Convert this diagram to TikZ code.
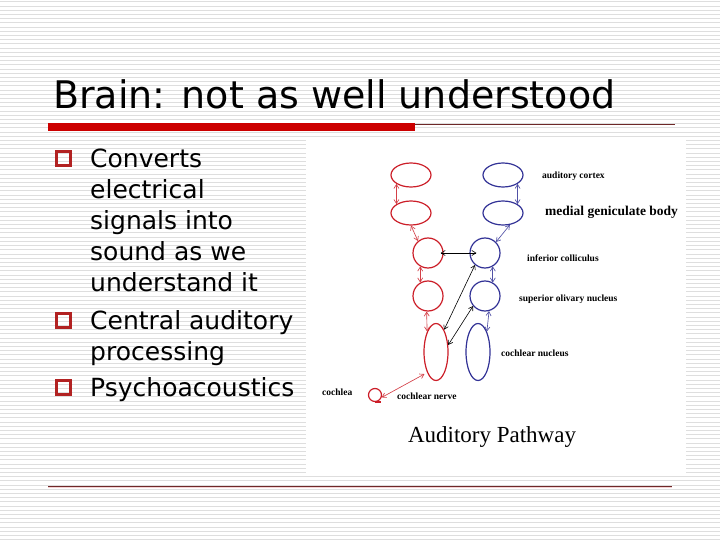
\documentclass[tikz,border=0pt]{standalone}
\usepackage{fontspec}
\setmainfont{Liberation Serif}
\newfontfamily\slidefont{DejaVu Sans}
\usetikzlibrary{arrows.meta,shapes.geometric,calc}

\definecolor{barred}{RGB}{204,0,0}
\definecolor{rulered}{RGB}{110,40,40}
\definecolor{bulletred}{RGB}{178,34,34}
\definecolor{pathred}{RGB}{204,30,40}
\definecolor{pathblue}{RGB}{50,50,150}
\definecolor{stripe}{RGB}{222,222,222}

\begin{document}
\begin{tikzpicture}[x=1pt, y=-1pt,
  every node/.style={inner sep=0pt},
  redring/.style={draw=pathred, line width=1.2pt},
  bluering/.style={draw=pathblue, line width=1.2pt},
  flat/.style={ellipse, minimum width=40pt, minimum height=24pt},
  nucleus/.style={circle, minimum size=30pt},
  tall/.style={ellipse, minimum width=24pt, minimum height=57pt},
  redlink/.style={draw=pathred!85, line width=0.65pt,
    arrows={Straight Barb[length=4pt,width=5pt]-Straight Barb[length=4pt,width=5pt]}},
  bluelink/.style={redlink, draw=pathblue!85},
  crosslink/.style={redlink, draw=black, line width=0.6pt},
  tag/.style={font=\fontsize{9.5}{10}\selectfont\bfseries, anchor=west},
  bullet/.style={draw=bulletred, line width=3pt, minimum size=14pt},
  point/.style={font=\slidefont\fontsize{25}{31}\selectfont, align=left, anchor=base west}]

  % slide background
  \useasboundingbox (0,0) rectangle (720,540);
  \fill[white] (0,0) rectangle (720,540);
  \foreach \y in {2,6.2,...,540}
    \draw[stripe, line width=1pt] (0,\y) -- (720,\y);

  % title and rules
  \node[font=\slidefont\fontsize{38}{44}\selectfont, anchor=base west] (title) at (53,109)
    {Brain: not as well understood};
  \fill[barred] (48,123) rectangle (415,131);
  \draw[rulered, line width=0.8pt] (415,124) -- (675,124);
  \draw[pathred!20, line width=1.5pt] (48,487.5) -- (672,487.5);
  \draw[rulered, line width=1pt] (48,486) -- (672,486);

  % bullets (base = last line)
  \node[bullet] (sq1) at (63,158.5) {};
  \node[point] (pt1) at (90,291) {Converts\\electrical\\signals into\\sound as we\\understand it};
  \node[bullet] (sq2) at (63,320.5) {};
  \node[point] (pt2) at (90,360) {Central auditory\\processing};
  \node[bullet] (sq3) at (63,387.5) {};
  \node[point] (pt3) at (90,396) {Psychoacoustics};

  % picture panel
  \fill[white] (306,138) rectangle (686,476);

  % left pathway
  \node[redring, flat] (rac) at (411,175) {};
  \node[redring, flat] (rmg) at (411,213) {};
  \node[redring, nucleus] (ric) at (428,253) {};
  \node[redring, nucleus] (rso) at (428,296) {};
  \node[redring, tall] (rcn) at (436,352) {};
  \node[redring, circle, minimum size=13pt] (coch) at (375,395) {};
  \draw[pathred, line width=2pt] (coch.south) -- ++(6,0);

  % right pathway
  \node[bluering, flat] (bac) at (503,175) {};
  \node[bluering, flat] (bmg) at (503,213) {};
  \node[bluering, nucleus] (bic) at (485,253) {};
  \node[bluering, nucleus] (bso) at (485,296) {};
  \node[bluering, tall] (bcn) at (478,352) {};

  % connections
  \draw[redlink] (rac.south west) -- (rmg.north west);
  \draw[redlink] (rmg.south) -- (ric.130);
  \draw[redlink] (ric.240) -- (rso.120);
  \draw[redlink] (rso.265) -- (rcn.north west);
  \draw[redlink, shorten >=3pt] (coch.-20) -- (rcn.south west);
  \draw[bluelink] (bac.south east) -- (bmg.north east);
  \draw[bluelink] (bmg.-60) -- (bic.45);
  \draw[bluelink] (bic.300) -- (bso.60);
  \draw[bluelink] (bso.285) -- (bcn.north east);
  \draw[crosslink, shorten <=-3pt, shorten >=-7pt] (ric.east) -- (bic.west);
  \draw[crosslink] (rcn.70) -- (bic.230);
  \draw[crosslink] (rcn.30) -- (bso.220);

  % labels
  \node[tag] (lac) at (542,176) {auditory cortex};
  \node[tag, font=\fontsize{13.5}{15}\selectfont\bfseries] (lmg) at (545,212) {medial geniculate body};
  \node[tag] (lic) at (527,258) {inferior colliculus};
  \node[tag] (lso) at (519,299) {superior olivary nucleus};
  \node[tag] (lcn) at (501,353) {cochlear nucleus};
  \node[tag] (lco) at (322,392) {cochlea};
  \node[tag] (lnv) at (397,396) {cochlear nerve};
  \node[font=\fontsize{23}{26}\selectfont] (cap) at (492,437) {Auditory Pathway};
\end{tikzpicture}
\end{document}
